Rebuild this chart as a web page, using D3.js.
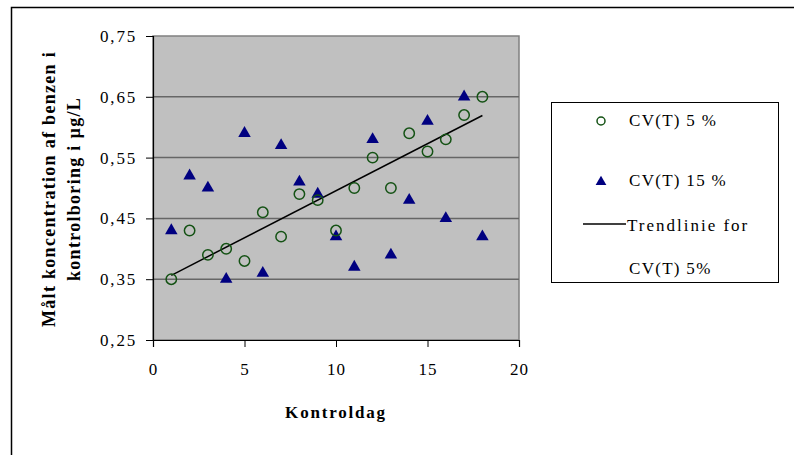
<!DOCTYPE html>
<html>
<head>
<meta charset="utf-8">
<script src="https://cdn.jsdelivr.net/npm/d3@7"></script>
<style>
  body { margin: 0; background: #fff; }
  text { font-family: "Liberation Serif", "Times New Roman", serif; }
</style>
</head>
<body>
<svg id="chart" width="794" height="455"></svg>
<script>
// kontroldage 1..18
var days = [1, 2, 3, 4, 5, 6, 7, 8, 9, 10, 11, 12, 13, 14, 15, 16, 17, 18];
// CV(T) 5 %
var cv5 = [0.35, 0.43, 0.39, 0.40, 0.38, 0.46, 0.42, 0.49, 0.48, 0.43, 0.50, 0.55, 0.50, 0.59, 0.56, 0.58, 0.62, 0.65];
// CV(T) 15 %
var cv15 = [0.43, 0.52, 0.50, 0.35, 0.59, 0.36, 0.57, 0.51, 0.49, 0.42, 0.37, 0.58, 0.39, 0.48, 0.61, 0.45, 0.65, 0.42];
var xTicks = [0, 5, 10, 15, 20];
var yTicks = [0.25, 0.35, 0.45, 0.55, 0.65, 0.75];
var legendLabels = ["CV(T) 5 %", "CV(T) 15 %", "Trendlinie for", "CV(T) 5%"];

var svg = d3.select("#chart");

// outer frame (cut off at right and bottom)
svg.append("rect")
  .attr("x", 11.5).attr("y", 7.5)
  .attr("width", 820).attr("height", 500)
  .attr("fill", "none").attr("stroke", "#000").attr("stroke-width", 1.5);

var pLeft = 153, pRight = 519, pTop = 36, pBottom = 340;

var x = d3.scaleLinear().domain([0, 20]).range([pLeft, pRight]);
var y = d3.scaleLinear().domain([0.25, 0.75]).range([pBottom, pTop]);

// plot area
svg.append("rect")
  .attr("x", pLeft).attr("y", pTop)
  .attr("width", pRight - pLeft).attr("height", pBottom - pTop)
  .attr("fill", "#c0c0c0").attr("stroke", "#808080").attr("stroke-width", 1.5);

// gridlines
svg.append("g").selectAll("line")
  .data(yTicks.slice(1, -1))
  .join("line")
  .attr("x1", pLeft).attr("x2", pRight)
  .attr("y1", d => y(d)).attr("y2", d => y(d))
  .attr("stroke", "#666").attr("stroke-width", 1.5);

// axes
var fmt = d => d3.format(".2f")(d).replace(".", ",");
var yAxis = svg.append("g")
  .attr("transform", "translate(" + pLeft + ",0)")
  .call(d3.axisLeft(y).tickValues(yTicks).tickFormat(fmt).tickSize(7).tickPadding(9));
var xAxis = svg.append("g")
  .attr("transform", "translate(0," + pBottom + ")")
  .call(d3.axisBottom(x).tickValues(xTicks).tickSize(7).tickPadding(16));

[yAxis, xAxis].forEach(a => {
  a.select(".domain").attr("stroke", "#000").attr("stroke-width", 1.2);
  a.selectAll(".tick line").attr("stroke", "#000");
  a.selectAll("text")
    .attr("font-family", "Liberation Serif, serif")
    .attr("font-size", 17).attr("fill", "#000");
});
yAxis.selectAll("text").attr("letter-spacing", 1.8);
xAxis.selectAll("text").attr("letter-spacing", 1);

// trendline (least squares on CV(T) 5 %)
var mx = d3.mean(days), my = d3.mean(cv5);
var slope = d3.sum(days, (d, i) => (d - mx) * (cv5[i] - my)) / d3.sum(days, d => (d - mx) * (d - mx));
var icpt = my - slope * mx;
var x0 = d3.min(days), x1 = d3.max(days);
svg.append("line")
  .attr("x1", x(x0)).attr("y1", y(icpt + slope * x0))
  .attr("x2", x(x1)).attr("y2", y(icpt + slope * x1))
  .attr("stroke", "#000").attr("stroke-width", 1.5);

// triangles CV(T) 15 %
var tri = d3.symbol().type(d3.symbolTriangle).size(68);
svg.append("g").selectAll("path")
  .data(days)
  .join("path")
  .attr("d", tri)
  .attr("transform", (d, i) => "translate(" + x(d) + "," + y(cv15[i]) + ")")
  .attr("fill", "#000080");

// circles CV(T) 5 %
svg.append("g").selectAll("circle")
  .data(days)
  .join("circle")
  .attr("cx", d => x(d)).attr("cy", (d, i) => y(cv5[i]))
  .attr("r", 5.2)
  .attr("fill", "none").attr("stroke", "#145214").attr("stroke-width", 1.5);

// axis titles
svg.append("text")
  .attr("x", 336).attr("y", 418)
  .attr("text-anchor", "middle")
  .attr("font-size", 17).attr("font-weight", "bold")
  .attr("letter-spacing", 1.8)
  .text("Kontroldag");

var yTitle = svg.append("text")
  .attr("transform", "translate(55,189) rotate(-90)")
  .attr("text-anchor", "middle")
  .attr("font-size", 18).attr("font-weight", "bold")
  .attr("letter-spacing", 1.3);
yTitle.append("tspan").attr("x", 0).attr("dy", 0).text("Målt koncentration af benzen i");
yTitle.append("tspan").attr("x", 0).attr("dy", 25).text("kontrolboring i µg/L");

// legend
var lg = svg.append("g");
lg.append("rect")
  .attr("x", 551.5).attr("y", 102.5)
  .attr("width", 227).attr("height", 180)
  .attr("fill", "#fff").attr("stroke", "#000").attr("stroke-width", 1);
lg.append("circle")
  .attr("cx", 601).attr("cy", 121).attr("r", 4)
  .attr("fill", "none").attr("stroke", "#145214").attr("stroke-width", 1.5);
lg.append("path")
  .attr("d", d3.symbol().type(d3.symbolTriangle).size(50))
  .attr("transform", "translate(601,182)")
  .attr("fill", "#000080");
lg.append("line")
  .attr("x1", 583).attr("x2", 626).attr("y1", 224).attr("y2", 224)
  .attr("stroke", "#000").attr("stroke-width", 1.5);
var ly = [126, 186, 231, 274];
var ls = [1.3, 1.3, 2, 1.3];
lg.selectAll("text.lbl")
  .data(legendLabels)
  .join("text")
  .attr("class", "lbl")
  .attr("x", (d, i) => i == 2 ? 627 : 629)
  .attr("y", (d, i) => ly[i])
  .attr("font-size", 17)
  .attr("letter-spacing", (d, i) => ls[i])
  .text(d => d);
</script>
</body>
</html>
